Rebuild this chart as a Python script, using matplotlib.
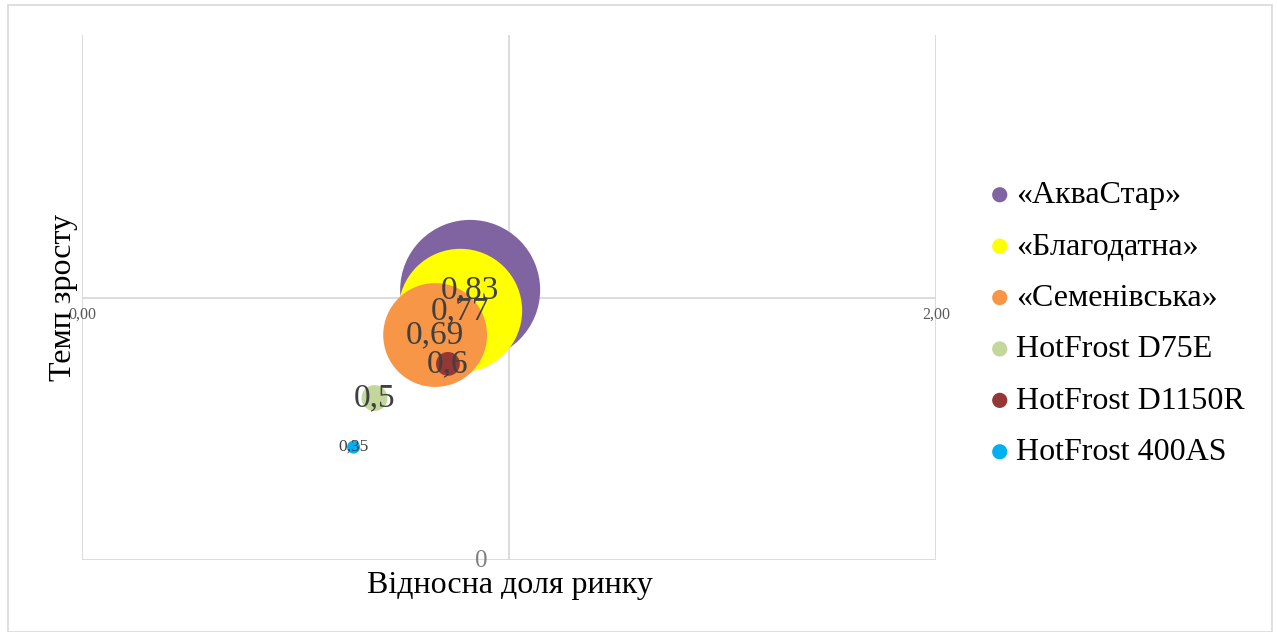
import matplotlib
matplotlib.use("Agg")
import matplotlib.pyplot as plt
from matplotlib.patches import Rectangle

# ---- data ----
products = ["«АкваСтар»", "«Благодатна»", "«Семенівська»",
            "HotFrost D75E", "HotFrost D1150R", "HotFrost 400AS"]
rel_share = [0.909, 0.886, 0.827, 0.685, 0.857, 0.636]   # x
growth = [1.029, 0.950, 0.857, 0.617, 0.747, 0.430]      # y
bubble_size = [100, 78, 55, 3.4, 2.9, 0.86]               # relative bubble area
labels = ["0,83", "0,77", "0,69", "0,5", "0,6", "0,35"]
x_tick_labels = ["0,00", "1,00", "2,00"]
x_ticks = [0, 1, 2]

colors = ["#8064A2", "#FFFF00", "#F79646", "#C3D69B", "#953735", "#00B0F0"]
label_fs = [24, 24, 24, 24, 24, 12.5]

plt.rcParams['font.family'] = ['Liberation Serif', 'DejaVu Serif']

W, H, DPI = 12.77, 6.32, 100
fig = plt.figure(figsize=(W, H), dpi=DPI)
ax = fig.add_axes([82/1277, 1-560/632, (936-82)/1277, (560-35)/632])
ax.set_xlim(0, 2)
ax.set_ylim(0, 2)
for s in ax.spines.values():
    s.set_visible(False)
ax.set_xticks([])
ax.set_yticks([])

grid_c = "#D9D9D9"
for xv in x_ticks:
    ax.axvline(xv, color=grid_c, lw=1.3, zorder=0)
ax.axhline(0, color=grid_c, lw=1.3, zorder=0)
ax.axhline(1, color=grid_c, lw=1.3, zorder=0)

max_r_px = 70
for i, (x, y, sz, c, name) in enumerate(zip(rel_share, growth, bubble_size, colors, products)):
    r_px = max_r_px * (sz / max(bubble_size)) ** 0.5
    s = (2 * r_px * 72 / DPI) ** 2
    ax.scatter([x], [y], s=s, color=c, edgecolors='none', zorder=2 + i, label=name)

for x, y, lab, fs in zip(rel_share, growth, labels, label_fs):
    ax.text(x, y, lab, ha='center', va='center', fontsize=fs, color="#404040", zorder=20)

for xv, lab in zip(x_ticks, x_tick_labels):
    ax.text(xv, 1 - 0.066, lab, ha='center', va='center', fontsize=11.5, color="#595959", zorder=1)
ax.text(0.935, -0.005, "0", ha='center', va='center', fontsize=18, color="#7F7F7F", zorder=1)

fig.text(510/1277, 1-586/632, "Відносна доля ринку", ha='center', va='center', fontsize=23)
fig.text(63/1277, 1-297/632, "Темп зросту", ha='center', va='center', fontsize=23, rotation=90)

leg = ax.legend(loc='upper left', bbox_to_anchor=(971/1277, 1-168/632),
                bbox_transform=fig.transFigure, frameon=False, fontsize=23,
                labelspacing=0.69, handletextpad=0.0, handlelength=1.0, borderaxespad=0)
for h in leg.legend_handles:
    h.set_sizes([120])

fig.patches.append(Rectangle((8/1277, 0), 1 - 13/1277, 1 - 5/632, transform=fig.transFigure,
                             fill=False, edgecolor="#D9D9D9", lw=1.2))

fig.savefig("out.png", dpi=DPI)
